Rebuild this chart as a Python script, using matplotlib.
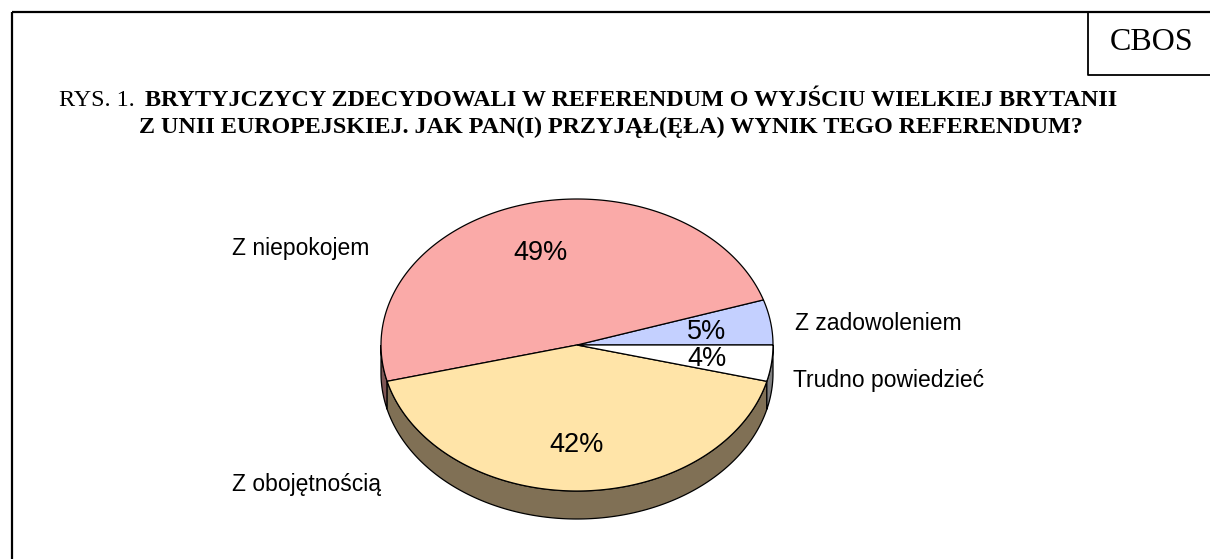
import numpy as np
import matplotlib
matplotlib.use("Agg")
import matplotlib.pyplot as plt
from matplotlib.patches import Polygon

# data (counter-clockwise from 3 o'clock)
categories = ["Z zadowoleniem", "Z niepokojem", "Z obojętnością", "Trudno powiedzieć"]
values = [5, 49, 42, 4]
top_colors = ["#c4d0ff", "#faaaa8", "#ffe4a8", "#ffffff"]
side_colors = ["#626880", "#7d5554", "#807055", "#808080"]

title_prefix = "RYS. 1."
title_lines = ["BRYTYJCZYCY ZDECYDOWALI W REFERENDUM O WYJŚCIU WIELKIEJ BRYTANII",
               "Z UNII EUROPEJSKIEJ. JAK PAN(I) PRZYJĄŁ(ĘŁA) WYNIK TEGO REFERENDUM?"]

# layout (pixels)
W, H = 1210, 559
cx, cy, rx, ry, depth = 577, 345, 196, 146, 28
label_pos = {"Z zadowoleniem": (795, 323), "Z niepokojem": (232, 249),
             "Z obojętnością": (232, 485), "Trudno powiedzieć": (793, 381)}

fig = plt.figure(figsize=(W / 100, H / 100), dpi=100)
ax = fig.add_axes([0, 0, 1, 1])
ax.set_xlim(0, W)
ax.set_ylim(H, 0)
ax.axis("off")

def arc(a0, a1, dy=0, n=200):
    t = np.radians(np.linspace(a0, a1, n))
    return np.column_stack([cx + rx * np.cos(t), cy + dy - ry * np.sin(t)])

bounds = np.concatenate([[0], np.cumsum(values)]) * 360.0 / sum(values)

# side walls (only the front half is visible)
for i in range(len(values)):
    a0, a1 = max(bounds[i], 180), min(bounds[i + 1], 360)
    if a1 <= a0:
        continue
    top = arc(a0, a1)
    bot = arc(a1, a0, depth)
    ax.add_patch(Polygon(np.vstack([top, bot]), closed=True, fc=side_colors[i],
                         ec="black", lw=0.9))

# top slices
for i in range(len(values)):
    pts = np.vstack([[cx, cy], arc(bounds[i], bounds[i + 1]), [cx, cy]])
    ax.add_patch(Polygon(pts, closed=True, fc=top_colors[i], ec="black", lw=0.9))

# percentage labels
for i, v in enumerate(values):
    mid = np.radians((bounds[i] + bounds[i + 1]) / 2)
    ax.text(cx + 0.67 * rx * np.cos(mid), cy + 2 - 0.67 * ry * np.sin(mid), f"{v}%",
            ha="center", va="center", fontsize=19.5, family="Liberation Sans")

for name in categories:
    x, y = label_pos[name]
    ax.text(x, y, name, ha="left", va="center", fontsize=16.5, family="Liberation Sans")

# title
ax.text(59, 105.5, title_prefix, ha="left", va="baseline", fontsize=17.4,
        family="Liberation Serif")
ax.text(145, 105.5, title_lines[0], ha="left", va="baseline", fontsize=17.4,
        family="Liberation Serif", weight="bold")
ax.text(139, 133, title_lines[1], ha="left", va="baseline", fontsize=17.4,
        family="Liberation Serif", weight="bold")

# frame and CBOS box
ax.plot([12, W], [12, 12], color="black", lw=1.6, solid_capstyle="butt")
ax.plot([12, 12], [12, H], color="black", lw=1.6, solid_capstyle="butt")
ax.plot([1088, 1088, W], [12, 75, 75], color="black", lw=1.3)
ax.text(1152, 43, "CBOS", ha="center", va="center", fontsize=23, family="Liberation Serif")

fig.savefig("out.png", dpi=100)
